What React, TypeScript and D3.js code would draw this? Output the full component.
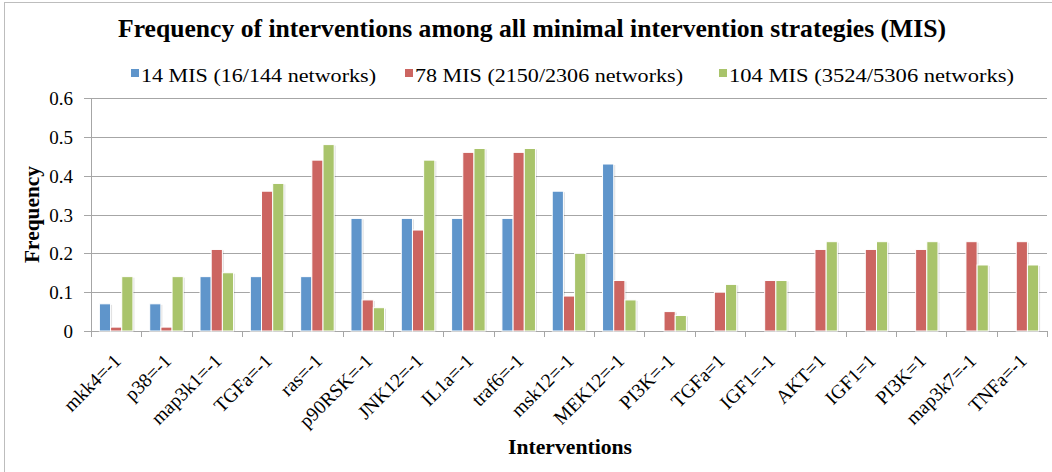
import React from "react";
import * as d3 from "d3";

const categories = [
  "mkk4=-1", "p38=-1", "map3k1=-1", "TGFa=-1", "ras=-1", "p90RSK=-1", "JNK12=-1",
  "IL1a=-1", "traf6=-1", "msk12=-1", "MEK12=-1", "PI3K=-1", "TGFa=1", "IGF1=-1",
  "AKT=1", "IGF1=1", "PI3K=1", "map3k7=-1", "TNFa=-1",
];
const series14 = [0.07, 0.07, 0.14, 0.14, 0.14, 0.29, 0.29, 0.29, 0.29, 0.36, 0.43, 0, 0, 0, 0, 0, 0, 0, 0];
const series78 = [0.01, 0.01, 0.21, 0.36, 0.44, 0.08, 0.26, 0.46, 0.46, 0.09, 0.13, 0.05, 0.10, 0.13, 0.21, 0.21, 0.21, 0.23, 0.23];
const series104 = [0.14, 0.14, 0.15, 0.38, 0.48, 0.06, 0.44, 0.47, 0.47, 0.20, 0.08, 0.04, 0.12, 0.13, 0.23, 0.23, 0.23, 0.17, 0.17];
const seriesNames = ["14 MIS (16/144 networks)", "78 MIS (2150/2306 networks)", "104 MIS (3524/5306 networks)"];
const seriesColors = ["#5F95CB", "#CC6561", "#A9C46B"];
const yTicks = [0, 0.1, 0.2, 0.3, 0.4, 0.5, 0.6];
const title = "Frequency of interventions among all minimal intervention strategies (MIS)";
const yTitle = "Frequency";
const xTitle = "Interventions";

const W = 1052, H = 472;
const plot = { left: 91, right: 1047, top: 98, bottom: 331 };
const font = "'Liberation Serif', serif";

export default function App() {
  const allSeries = [series14, series78, series104];
  const x = d3.scaleBand<string>().domain(categories).range([plot.left, plot.right]).paddingInner(0).paddingOuter(0);
  const bw = x.bandwidth();
  const barW = bw / 4.5;
  const y = d3.scaleLinear().domain([0, 0.6]).range([plot.bottom, plot.top]);
  const legendX = [131, 405, 719];
  const legendLen = [235, 268, 285];

  return (
    <div style={{ position: "absolute", left: 0, top: 0, width: W, height: H, background: "#fff" }}>
      <svg width={W} height={H} style={{ display: "block" }} fontFamily={font}>
        <rect x={0} y={0} width={W} height={H} fill="#fff" />
        <rect x={4.5} y={2.5} width={W + 10} height={H + 10} fill="none" stroke="#BDBDBD" strokeWidth={1} />
        <text x={532} y={37} textAnchor="middle" fontSize={25} fontWeight="bold" fill="#000" textLength={828} lengthAdjust="spacingAndGlyphs">{title}</text>
        {seriesNames.map((n, i) => (
          <g key={n}>
            <rect x={legendX[i]} y={69} width={8} height={8} fill={seriesColors[i]} />
            <text x={legendX[i] + 10} y={82} fontSize={19} fill="#000" textLength={legendLen[i]} lengthAdjust="spacingAndGlyphs">{n}</text>
          </g>
        ))}
        {yTicks.map((t) => (
          <g key={t}>
            <line x1={plot.left - 7} x2={plot.right} y1={Math.round(y(t)) + 0.5} y2={Math.round(y(t)) + 0.5} stroke="#A6A6A6" strokeWidth={1} />
            <text x={73} y={y(t) + 7} textAnchor="end" fontSize={19} fill="#000">{t === 0 ? "0" : t.toFixed(1)}</text>
          </g>
        ))}
        <line x1={plot.left + 0.5} x2={plot.left + 0.5} y1={plot.top} y2={plot.bottom + 6} stroke="#A6A6A6" />
        {categories.map((c, i) => (
          <line key={"t" + i} x1={Math.round((x(c) as number) + bw) + 0.5} x2={Math.round((x(c) as number) + bw) + 0.5} y1={plot.bottom} y2={plot.bottom + 6} stroke="#A6A6A6" />
        ))}
        {categories.map((c, ci) =>
          allSeries.map((s, si) => {
            const v = s[ci];
            if (v <= 0) return null;
            const bx = (x(c) as number) + barW * 0.75 + si * barW;
            const by = y(v);
            const bh = plot.bottom - by;
            return (
              <g key={c + si}>
                <rect x={bx + 1.5} y={by + 1} width={barW} height={bh - 1} fill="#000" opacity={0.12} />
                <rect x={bx} y={by} width={barW} height={bh} fill={seriesColors[si]} stroke="#fff" strokeWidth={1} />
              </g>
            );
          })
        )}
        {categories.map((c) => {
          const cx = (x(c) as number) + bw / 2 + 6;
          const cy = plot.bottom + 31;
          return (
            <text key={"l" + c} x={cx} y={cy} textAnchor="end" fontSize={19.5} fill="#000" transform={`rotate(-45 ${cx} ${cy})`}>{c}</text>
          );
        })}
        <text x={0} y={0} transform={`translate(38.5 ${(plot.top + plot.bottom) / 2}) rotate(-90)`} textAnchor="middle" fontSize={20} fontWeight="bold" fill="#000" textLength={97} lengthAdjust="spacingAndGlyphs">{yTitle}</text>
        <text x={570} y={454} textAnchor="middle" fontSize={20} fontWeight="bold" fill="#000" textLength={124} lengthAdjust="spacingAndGlyphs">{xTitle}</text>
      </svg>
    </div>
  );
}
